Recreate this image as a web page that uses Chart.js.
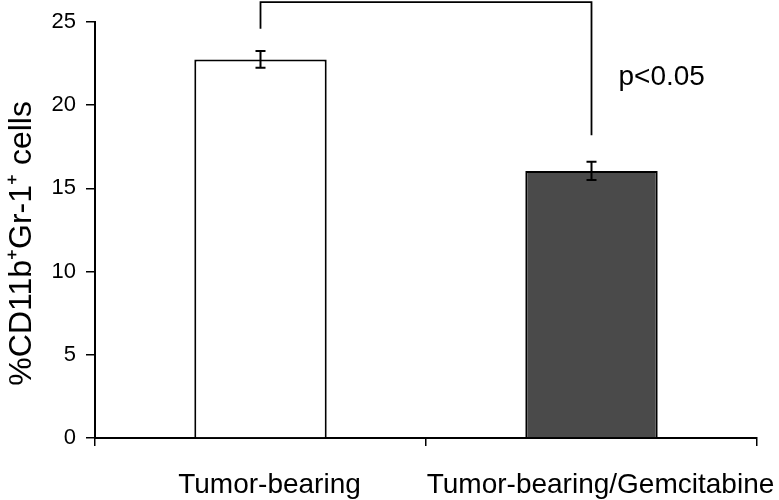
<!DOCTYPE html>
<html>
<head>
<meta charset="utf-8">
<script src="https://cdn.jsdelivr.net/npm/chart.js@4/dist/chart.umd.min.js"></script>
<style>
  body { margin: 0; background: #fff; }
  #wrap { width: 779px; height: 500px; position: relative; }
</style>
</head>
<body>
<div id="wrap"><canvas id="cellsChart"></canvas></div>
<script>
const categories = ["Tumor-bearing", "Tumor-bearing/Gemcitabine"];
const means = [22.75, 16.05];
const errors = [0.5, 0.55];
const yTicks = [0, 5, 10, 15, 20, 25];
const barColors = ["#ffffff", "#4a4a4a"];
// significance bracket: top of bracket, bottom of each leg (data units)
const bracketTop = 26.2;
const bracketLegEnds = [24.6, 18.2];
const pText = "p<0.05";
const pTextY = 21.7;

const FONT = "'Liberation Sans', Arial, Helvetica, sans-serif";

// error bars + bracket
const extras = {
  id: "extras",
  afterDatasetsDraw(chart) {
    const ctx = chart.ctx;
    const y = chart.scales.y;
    const bars = chart.getDatasetMeta(0).data;
    ctx.save();
    ctx.strokeStyle = "#000";
    ctx.lineWidth = 2;
    bars.forEach((bar, i) => {
      const top = y.getPixelForValue(means[i] + errors[i]);
      const bot = y.getPixelForValue(means[i] - errors[i]);
      ctx.beginPath();
      ctx.moveTo(bar.x, top); ctx.lineTo(bar.x, bot);
      ctx.moveTo(bar.x - 5, top); ctx.lineTo(bar.x + 5, top);
      ctx.moveTo(bar.x - 5, bot); ctx.lineTo(bar.x + 5, bot);
      ctx.stroke();
    });
    const yt = y.getPixelForValue(bracketTop);
    ctx.lineWidth = 1.8;
    ctx.beginPath();
    ctx.moveTo(bars[0].x, y.getPixelForValue(bracketLegEnds[0]));
    ctx.lineTo(bars[0].x, yt);
    ctx.lineTo(bars[1].x, yt);
    ctx.lineTo(bars[1].x, y.getPixelForValue(bracketLegEnds[1]));
    ctx.stroke();
    ctx.fillStyle = "#000";
    ctx.font = "28px " + FONT;
    ctx.textBaseline = "middle";
    ctx.textAlign = "left";
    ctx.fillText(pText, bars[1].x + 27, y.getPixelForValue(pTextY));
    ctx.restore();
  }
};

new Chart(document.getElementById("cellsChart"), {
  type: "bar",
  data: {
    labels: categories,
    datasets: [
      {
        data: means,
        backgroundColor: barColors,
        borderColor: "#000",
        borderWidth: 2,
        categoryPercentage: 1,
        barPercentage: 0.4
      }
    ]
  },
  options: {
    responsive: true,
    maintainAspectRatio: false,
    animation: false,
    layout: { autoPadding: false, padding: { top: 22, right: 22, left: 0, bottom: 0 } },
    plugins: { legend: { display: false }, tooltip: { enabled: false } },
    scales: {
      x: {
        grid: { drawOnChartArea: false, tickLength: 8, color: "#000", lineWidth: 1.5 },
        border: { color: "#000", width: 2 },
        ticks: { color: "#000", font: { family: FONT, size: 28 }, padding: 22, labelOffset: 9, maxRotation: 0, autoSkip: false },
        afterFit: (s) => { s.height = 62; s.paddingLeft = 0; s.paddingRight = 0; }
      },
      y: {
        min: 0,
        max: 25,
        afterBuildTicks: (s) => { s.ticks = yTicks.map(v => ({ value: v })); },
        grid: { drawOnChartArea: false, tickLength: 9, color: "#000", lineWidth: 1.5 },
        border: { color: "#000", width: 2 },
        ticks: { color: "#000", font: { family: FONT, size: 22 }, padding: 10 },
        title: {
          display: true,
          text: "%CD11b\u207AGr-1\u207A cells   ",
          color: "#000",
          font: { family: FONT, size: 32 },
          padding: { top: 3, bottom: 0 }
        },
        afterFit: (s) => { s.width = 95; s.paddingTop = 0; s.paddingBottom = 0; }
      }
    }
  },
  plugins: [extras]
});
</script>
</body>
</html>
